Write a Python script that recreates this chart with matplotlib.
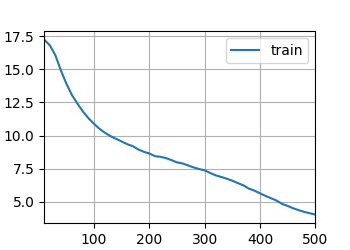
import matplotlib
matplotlib.use("Agg")
import matplotlib.pyplot as plt

# epochs and training loss
epochs = list(range(10, 501, 10))
train_loss = [
    17.22, 16.80, 16.05, 14.90, 13.90, 13.05, 12.40, 11.80, 11.30, 10.88,
    10.50, 10.20, 9.95, 9.75, 9.55, 9.35, 9.20, 8.95, 8.78, 8.65,
    8.45, 8.40, 8.30, 8.15, 7.98, 7.90, 7.75, 7.60, 7.48, 7.38,
    7.18, 7.00, 6.88, 6.75, 6.60, 6.42, 6.25, 6.00, 5.85, 5.65,
    5.45, 5.28, 5.10, 4.85, 4.70, 4.52, 4.38, 4.25, 4.15, 4.05,
]
legend_labels = ["train"]

fig, ax = plt.subplots(figsize=(3.5, 2.5), dpi=100)
fig.subplots_adjust(left=0.1266, right=0.901, bottom=0.1068, top=0.876)

ax.plot(epochs, train_loss, color="#1f77b4", linewidth=1.5)
ax.set_xlim(10, 500)
ax.grid(True)
ax.legend(legend_labels, loc="upper right")

fig.savefig("out.png", dpi=100)
